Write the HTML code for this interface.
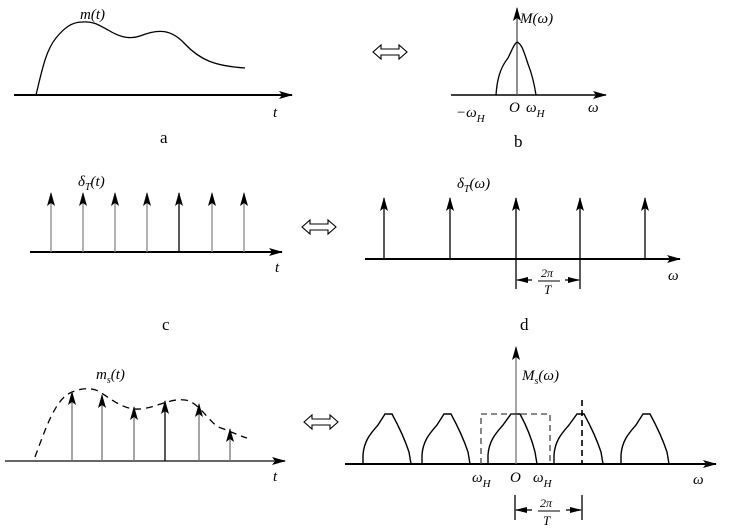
<!DOCTYPE html>
<html><head><meta charset="utf-8"><style>
html,body{margin:0;padding:0;background:#fff;}
svg{display:block;font-family:"Liberation Serif",serif;}
.i{font-style:italic;}
</style></head><body>
<svg width="738" height="530" viewBox="0 0 738 530" xmlns="http://www.w3.org/2000/svg">
<defs>
<marker id="ah" markerWidth="14" markerHeight="8" refX="13" refY="4" orient="auto" markerUnits="userSpaceOnUse">
<path d="M0,0 L14,4 L0,8 L3,4 Z" fill="#000"/></marker>
<marker id="as" markerWidth="12" markerHeight="6" refX="11" refY="3" orient="auto" markerUnits="userSpaceOnUse">
<path d="M0,0 L12,3 L0,6 Z" fill="#000"/></marker>
</defs>
<g stroke="#000" fill="none" stroke-width="1.3">
<!-- a -->
<line x1="14" y1="95" x2="292" y2="95" stroke-width="2" marker-end="url(#ah)"/>
<path d="M36,95 C42,70 46,50 56,38 C64,28 72,22 82,22 C95,21 100,26 108,30 C118,36 128,40 140,36 C160,28 172,30 185,44 C200,60 215,66 245,68"/>
<!-- b -->
<line x1="451" y1="95" x2="606" y2="95" stroke-width="1.5" marker-end="url(#ah)"/>
<line x1="517" y1="95" x2="517" y2="8" stroke="#555" marker-end="url(#ah)"/>
<path d="M496,95 C497,80 500,68 508,58 C512,50 514,44 517,42 C522,44 524,52 528,64 C532,74 534,82 536,95"/>
<!-- c -->
<line x1="30" y1="252" x2="282" y2="252" stroke-width="2" marker-end="url(#ah)"/>
<g stroke="#888"><line x1="51" y1="252" x2="51" y2="193" marker-end="url(#ah)"/><line x1="83" y1="252" x2="83" y2="193" marker-end="url(#ah)"/><line x1="115" y1="252" x2="115" y2="193" marker-end="url(#ah)"/><line x1="147" y1="252" x2="147" y2="193" marker-end="url(#ah)"/><line x1="212" y1="252" x2="212" y2="193" marker-end="url(#ah)"/><line x1="244" y1="252" x2="244" y2="193" marker-end="url(#ah)"/></g>
<line x1="179" y1="252" x2="179" y2="193" marker-end="url(#ah)"/>
<!-- d -->
<line x1="365" y1="259" x2="680" y2="259" stroke-width="2" marker-end="url(#ah)"/>
<line x1="384" y1="259" x2="384" y2="198" marker-end="url(#ah)"/>
<line x1="450" y1="259" x2="450" y2="198" marker-end="url(#ah)"/>
<line x1="516" y1="259" x2="516" y2="198" marker-end="url(#ah)"/>
<line x1="580" y1="259" x2="580" y2="198" marker-end="url(#ah)"/>
<line x1="645" y1="259" x2="645" y2="198" marker-end="url(#ah)"/>
<line x1="516" y1="259" x2="516" y2="289"/><line x1="580" y1="259" x2="580" y2="289"/>
<line x1="532" y1="280" x2="517" y2="280" marker-end="url(#as)"/>
<line x1="565" y1="280" x2="579" y2="280" marker-end="url(#as)"/>
<line x1="538" y1="281" x2="560" y2="281" stroke-width="1"/>
<!-- e -->
<line x1="5" y1="461" x2="285" y2="461" stroke="#666" stroke-width="2" marker-end="url(#ah)"/>
<path d="M35,457 C45,430 55,400 70,393 C80,388 92,387 100,392 C115,402 125,410 140,409 C155,408 170,398 185,400 C200,402 210,425 221,428 C232,432 240,436 247,438" stroke-dasharray="7,5"/>
<g stroke="#777"><line x1="72" y1="461" x2="72" y2="392" marker-end="url(#ah)"/><line x1="102" y1="461" x2="102" y2="395" marker-end="url(#ah)"/><line x1="134" y1="461" x2="134" y2="407" marker-end="url(#ah)"/><line x1="199" y1="461" x2="199" y2="404" marker-end="url(#ah)"/><line x1="230" y1="461" x2="230" y2="429" marker-end="url(#ah)"/></g>
<line x1="165" y1="461" x2="165" y2="401" marker-end="url(#ah)"/>
<!-- f -->
<line x1="345" y1="464" x2="716" y2="464" stroke-width="2" marker-end="url(#ah)"/>
<line x1="516" y1="464" x2="516" y2="347" stroke="#777" marker-end="url(#ah)"/>
<g stroke-width="1.4">
<path d="M363,464 L363,455 C364,440 372,432 378,425 L385,414 L392,414 C398,425 405,440 409,452 L411,464"/>
<path d="M422,464 L422,455 C423,440 431,432 437,425 L444,414 L451,414 C457,425 464,440 468,452 L470,464"/>
<path d="M488,464 L488,455 C489,440 497,432 503,425 L511,414 L520,414 C526,425 532,440 535,452 L537,464"/>
<path d="M554,464 L554,455 C555,440 563,432 569,425 L577,414 L584,414 C590,425 597,440 601,452 L603,464"/>
<path d="M621,464 L621,455 C622,440 630,432 636,425 L643,414 L650,414 C656,425 663,440 667,452 L669,464"/>
</g>
<path d="M481,464 L481,414 L550,414 L550,464" stroke-dasharray="6,4" stroke="#444"/>
<line x1="582" y1="400" x2="582" y2="464" stroke-dasharray="6,4" stroke-width="1.6"/>
<line x1="515" y1="495" x2="515" y2="520"/><line x1="582" y1="495" x2="582" y2="520"/>
<line x1="532" y1="510" x2="516" y2="510" marker-end="url(#as)"/>
<line x1="566" y1="510" x2="581" y2="510" marker-end="url(#as)"/>
<line x1="538" y1="511" x2="560" y2="511" stroke-width="1"/>
</g>
<!-- double arrows -->
<g fill="none" stroke="#000" stroke-width="1.1">
<path d="M373,52 L381,45 L381,49 L399,49 L399,45 L407,52 L399,59 L399,55 L381,55 L381,59 Z"/>
<path d="M302,227 L310,220 L310,224 L328,224 L328,220 L336,227 L328,234 L328,230 L310,230 L310,234 Z"/>
<path d="M304,422 L312,415 L312,419 L330,419 L330,415 L338,422 L330,429 L330,425 L312,425 L312,429 Z"/>
</g>
<g fill="#000" font-size="15">
<text x="80" y="19" class="i">m(t)</text>
<text x="273" y="117" class="i">t</text>
<text x="520" y="23" class="i">M(ω)</text>
<text x="456" y="117" class="i">−ω<tspan font-size="11" dy="5">H</tspan></text>
<text x="509" y="112" class="i">O</text>
<text x="526" y="112" class="i">ω<tspan font-size="11" dy="5">H</tspan></text>
<text x="588" y="112" class="i">ω</text>
<text x="160" y="143" font-size="17">a</text>
<text x="514" y="147" font-size="17">b</text>
<text x="78" y="186" class="i">δ<tspan font-size="10" dy="4">T</tspan><tspan dy="-4">(t)</tspan></text>
<text x="275" y="272" class="i">t</text>
<text x="457" y="188" class="i">δ<tspan font-size="10" dy="4">T</tspan><tspan dy="-4">(ω)</tspan></text>
<text x="541" y="277" font-size="12" class="i">2π</text>
<text x="544" y="294" font-size="13" class="i">T</text>
<text x="668" y="280" class="i">ω</text>
<text x="162" y="330" font-size="17">c</text>
<text x="520" y="330" font-size="17">d</text>
<text x="96" y="379" class="i">m<tspan font-size="10" dy="4">s</tspan><tspan dy="-4">(t)</tspan></text>
<text x="273" y="481" class="i">t</text>
<text x="522" y="380" class="i">M<tspan font-size="10" dy="4">s</tspan><tspan dy="-4">(ω)</tspan></text>
<text x="472" y="482" class="i">ω<tspan font-size="11" dy="5">H</tspan></text>
<text x="510" y="482" class="i">O</text>
<text x="533" y="482" class="i">ω<tspan font-size="11" dy="5">H</tspan></text>
<text x="693" y="484" class="i">ω</text>
<text x="540" y="507" font-size="12" class="i">2π</text>
<text x="543" y="525" font-size="13" class="i">T</text>
</g>
</svg>
</body></html>
